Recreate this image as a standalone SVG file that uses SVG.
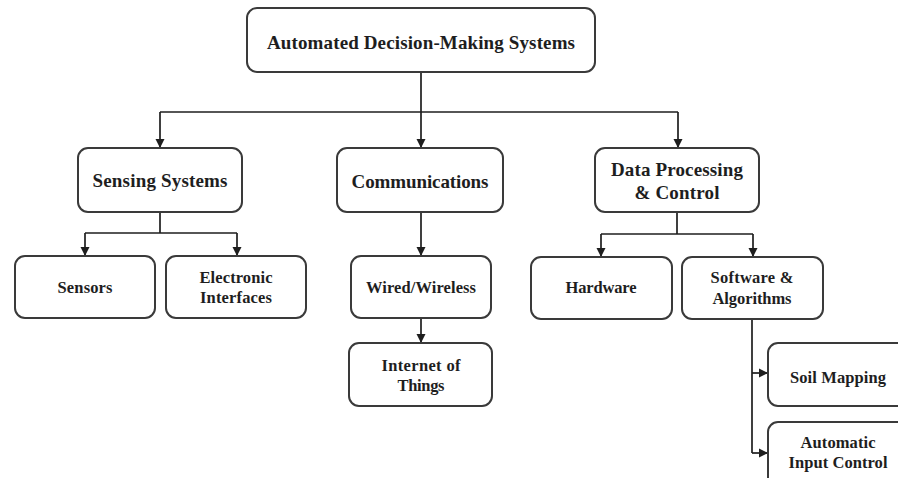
<svg xmlns="http://www.w3.org/2000/svg" width="898" height="478" viewBox="0 0 898 478">
  <style>
    .box { fill: #ffffff; stroke: #3a3a3a; stroke-width: 2; }
    .lbl { font-family: "Liberation Serif", "Times New Roman", Tinos, serif; font-weight: bold; fill: #1e1e1e; text-anchor: middle; }
    .big { font-size: 19px; }
    .sm { font-size: 16.5px; }
    .wire { fill: none; stroke: #1e1e1e; stroke-width: 1.7; }
  </style>
  <defs>
    <marker id="arrow" viewBox="0 0 10 10" refX="10" refY="5" markerWidth="5.5" markerHeight="5.5" orient="auto" markerUnits="strokeWidth">
      <path d="M0,0 L10,5 L0,10 Z" fill="#1e1e1e"/>
    </marker>
  </defs>
  <rect width="898" height="478" fill="#ffffff"/>

  <!-- connectors -->
  <g id="connectors">
    <path class="wire" d="M421,72 V148" marker-end="url(#arrow)"/>
    <path class="wire" d="M160,112 H678"/>
    <path class="wire" d="M160,112 V148" marker-end="url(#arrow)"/>
    <path class="wire" d="M678,112 V148" marker-end="url(#arrow)"/>

    <path class="wire" d="M160,212 V233"/>
    <path class="wire" d="M85,233 H237"/>
    <path class="wire" d="M85,233 V256" marker-end="url(#arrow)"/>
    <path class="wire" d="M237,233 V256" marker-end="url(#arrow)"/>

    <path class="wire" d="M421,212 V256" marker-end="url(#arrow)"/>
    <path class="wire" d="M421,318 V343" marker-end="url(#arrow)"/>

    <path class="wire" d="M677,212 V234"/>
    <path class="wire" d="M601,234 H753"/>
    <path class="wire" d="M601,234 V257" marker-end="url(#arrow)"/>
    <path class="wire" d="M753,234 V257" marker-end="url(#arrow)"/>

    <path class="wire" d="M752,319 V453"/>
    <path class="wire" d="M752,373 H768" marker-end="url(#arrow)"/>
    <path class="wire" d="M752,453 H768" marker-end="url(#arrow)"/>
  </g>

  <!-- nodes -->
  <g id="root">
    <rect class="box" x="247" y="8" width="348" height="64" rx="10"/>
    <text class="lbl big" x="421" y="49" textLength="308" lengthAdjust="spacing">Automated Decision-Making Systems</text>
  </g>

  <g id="sensing">
    <rect class="box" x="78" y="148" width="164" height="64" rx="10"/>
    <text class="lbl big" x="160" y="187" textLength="135" lengthAdjust="spacing">Sensing Systems</text>
  </g>

  <g id="communications">
    <rect class="box" x="337" y="148" width="166" height="64" rx="10"/>
    <text class="lbl big" x="420" y="188" textLength="137" lengthAdjust="spacing">Communications</text>
  </g>

  <g id="data-processing">
    <rect class="box" x="595" y="148" width="164" height="64" rx="10"/>
    <text class="lbl big" x="677" y="176" textLength="132" lengthAdjust="spacing">Data Processing</text>
    <text class="lbl big" x="677" y="199" textLength="85" lengthAdjust="spacing">&amp; Control</text>
  </g>

  <g id="sensors">
    <rect class="box" x="15" y="256" width="140" height="62" rx="10"/>
    <text class="lbl sm" x="85" y="293" textLength="55" lengthAdjust="spacing">Sensors</text>
  </g>

  <g id="electronic-interfaces">
    <rect class="box" x="166" y="256" width="140" height="62" rx="10"/>
    <text class="lbl sm" x="236" y="283" textLength="73" lengthAdjust="spacing">Electronic</text>
    <text class="lbl sm" x="236" y="303" textLength="72" lengthAdjust="spacing">Interfaces</text>
  </g>

  <g id="wired-wireless">
    <rect class="box" x="351" y="256" width="140" height="62" rx="10"/>
    <text class="lbl sm" x="421" y="293" textLength="110" lengthAdjust="spacing">Wired/Wireless</text>
  </g>

  <g id="internet-of-things">
    <rect class="box" x="349" y="343" width="143" height="63" rx="10"/>
    <text class="lbl sm" x="421" y="371" textLength="79" lengthAdjust="spacing">Internet of</text>
    <text class="lbl sm" x="421" y="391" textLength="47" lengthAdjust="spacing">Things</text>
  </g>

  <g id="hardware">
    <rect class="box" x="531" y="257" width="141" height="62" rx="10"/>
    <text class="lbl sm" x="601" y="293" textLength="71" lengthAdjust="spacing">Hardware</text>
  </g>

  <g id="software-algorithms">
    <rect class="box" x="682" y="257" width="141" height="62" rx="10"/>
    <text class="lbl sm" x="752" y="283" textLength="83" lengthAdjust="spacing">Software &amp;</text>
    <text class="lbl sm" x="752" y="304" textLength="79" lengthAdjust="spacing">Algorithms</text>
  </g>

  <g id="soil-mapping">
    <rect class="box" x="768" y="343" width="150" height="63" rx="10"/>
    <text class="lbl sm" x="838" y="383" textLength="96" lengthAdjust="spacing">Soil Mapping</text>
  </g>

  <g id="automatic-input-control">
    <rect class="box" x="768" y="422" width="150" height="70" rx="10"/>
    <text class="lbl sm" x="838" y="448" textLength="75" lengthAdjust="spacing">Automatic</text>
    <text class="lbl sm" x="838" y="468" textLength="99" lengthAdjust="spacing">Input Control</text>
  </g>
</svg>
